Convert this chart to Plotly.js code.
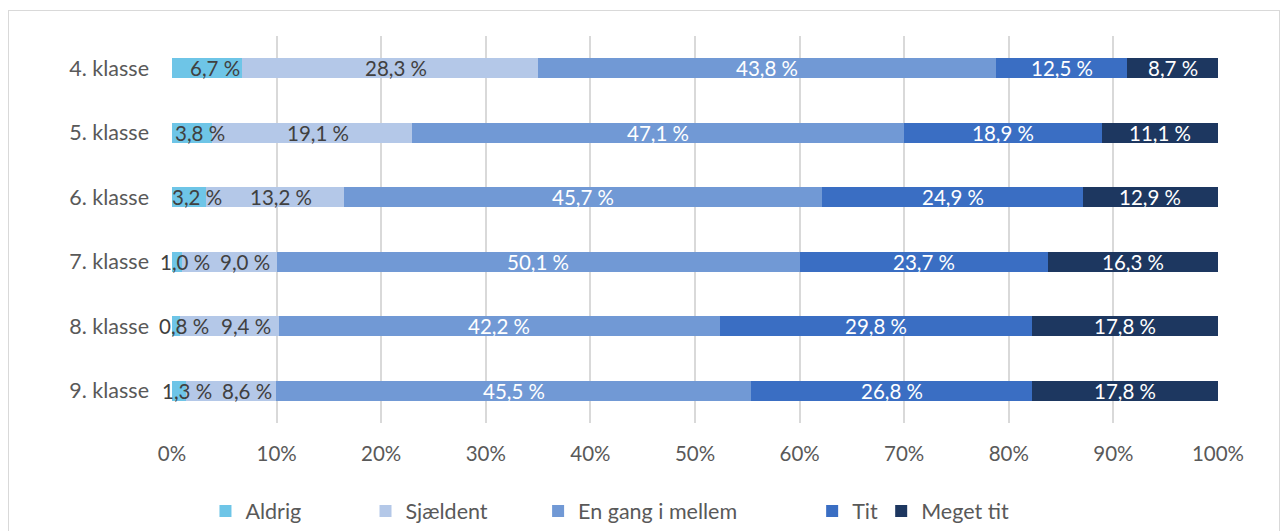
<!DOCTYPE html>
<html>
<head>
<meta charset="utf-8">
<script src="https://cdn.plot.ly/plotly-3.0.1.min.js"></script>
<style>
  body { margin: 0; padding: 0; background: #ffffff; }
  #wrap { position: relative; width: 1281px; height: 531px; overflow: hidden; }
  #chart { position: absolute; left: 0; top: 0; width: 1281px; height: 531px; }
  #frame { position: absolute; left: 8px; top: 10px; width: 1272px; height: 540px;
           border: 1px solid #d9d9d9; box-sizing: border-box; pointer-events: none; }
</style>
</head>
<body>
<div id="wrap">
  <div id="chart"></div>
  <div id="frame"></div>
</div>
<script>
const categories = ['4. klasse', '5. klasse', '6. klasse', '7. klasse', '8. klasse', '9. klasse'];
const seriesNames = ['Aldrig', 'Sjældent', 'En gang i mellem', 'Tit', 'Meget tit'];
const aldrig   = [6.7, 3.8, 3.2, 1.0, 0.8, 1.3];
const sjaeldent = [28.3, 19.1, 13.2, 9.0, 9.4, 8.6];
const enGang   = [43.8, 47.1, 45.7, 50.1, 42.2, 45.5];
const tit      = [12.5, 18.9, 24.9, 23.7, 29.8, 26.8];
const megetTit = [8.7, 11.1, 12.9, 16.3, 17.8, 17.8];
const xTickVals = [0, 10, 20, 30, 40, 50, 60, 70, 80, 90, 100];
const xTickText = ['0%', '10%', '20%', '30%', '40%', '50%', '60%', '70%', '80%', '90%', '100%'];

const series = [aldrig, sjaeldent, enGang, tit, megetTit];
const colors = ['#6EC5E7', '#B4C8E8', '#7199D5', '#3A6EC3', '#1D3760'];
const labelColors = ['#404040', '#404040', '#ffffff', '#ffffff', '#ffffff'];
const legendIds = ['legend', 'legend2', 'legend3', 'legend4', 'legend5'];
const legendX = [0.032, 0.185, 0.350, 0.612, 0.678];
const FONT = 'Lato, "Open Sans", sans-serif';

function fmt(v) { return v.toFixed(1).replace('.', ',') + ' %'; }

const traces = series.map((vals, i) => ({
  type: 'bar',
  orientation: 'h',
  name: seriesNames[i],
  y: categories,
  x: vals,
  legend: legendIds[i],
  marker: { color: colors[i], line: { width: 0 } },
  hoverinfo: 'name+x'
}));

// data labels centred on each segment (normalised to the stack total like a 100% stacked chart);
// dark labels sit slightly right, and are nudged apart where the first segment is very thin
const annotations = [];
categories.forEach((cat, j) => {
  const total = series.reduce((s, arr) => s + arr[j], 0);
  let cum = 0;
  series.forEach((arr, i) => {
    const v = arr[j] / total * 100;
    let shift = 0;
    if (i === 0) shift = 8;
    if (i === 1) shift = aldrig[j] < 2 ? 16 : 6;
    annotations.push({
      x: cum + v / 2, y: cat, xref: 'x', yref: 'y', xshift: shift,
      text: fmt(arr[j]), showarrow: false,
      font: { family: FONT, size: 20.5, color: labelColors[i] }
    });
    cum += v;
  });
});

const layout = {
  width: 1281, height: 531,
  margin: { l: 172, r: 63, t: 36, b: 108 },
  paper_bgcolor: '#ffffff', plot_bgcolor: '#ffffff',
  barmode: 'stack', barnorm: 'percent', bargap: 0.69,
  font: { family: FONT, size: 20, color: '#595959' },
  xaxis: {
    range: [0, 100], tickvals: xTickVals, ticktext: xTickText,
    showgrid: true, gridcolor: '#d9d9d9', gridwidth: 2,
    zeroline: false, showline: false, ticks: '', ticklabelstandoff: 16,
    tickfont: { family: FONT, size: 20.5, color: '#595959' }, fixedrange: true,
    automargin: false
  },
  yaxis: {
    type: 'category', autorange: 'reversed', showgrid: false, zeroline: false,
    showline: false, ticks: '', ticklabelstandoff: 22,
    tickfont: { family: FONT, size: 21.5, color: '#595959' }, fixedrange: true,
    automargin: false
  },
  annotations: annotations,
  showlegend: true
};
legendIds.forEach((id, i) => {
  layout[id] = {
    orientation: 'h', x: legendX[i], xanchor: 'left',
    y: 0.0377, yref: 'container', yanchor: 'middle',
    font: { family: FONT, size: 21.5, color: '#595959' },
    itemwidth: 30, bgcolor: 'rgba(0,0,0,0)'
  };
});

Plotly.newPlot('chart', traces, layout, { displayModeBar: false, staticPlot: true });
</script>
</body>
</html>
